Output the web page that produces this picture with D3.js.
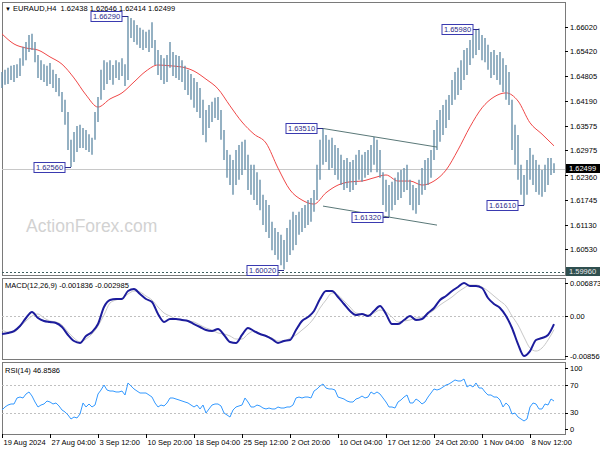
<!DOCTYPE html>
<html><head><meta charset="utf-8">
<script src="https://cdn.jsdelivr.net/npm/d3@7"></script>
<style>body{margin:0;background:#fff}svg{display:block;font-family:"Liberation Sans",Arial,sans-serif}</style>
</head><body><svg id="c" width="600" height="450"></svg>
<script>
const symbol = "EURAUD,H4";
const lastOHLC = ["1.62438", "1.62646", "1.62414", "1.62499"];
const timeLabels = ["19 Aug 2024","27 Aug 04:00","3 Sep 12:00","10 Sep 20:00","18 Sep 04:00","25 Sep 12:00","2 Oct 20:00","10 Oct 04:00","17 Oct 12:00","24 Oct 20:00","1 Nov 04:00","8 Nov 12:00"];
const priceTicks = [1.66020,1.65420,1.64805,1.64190,1.63575,1.62975,1.62360,1.61745,1.61130,1.60530];
const highs = [
1.6491,1.6496,1.6501,1.6506,1.6508,1.6510,1.6525,1.6553,1.6565,1.6582,
1.6585,1.6565,1.6533,1.6520,1.6510,1.6506,1.6513,1.6496,1.6486,1.6476,
1.6441,1.6422,1.6392,1.6323,1.6342,1.6357,1.6360,1.6352,1.6347,1.6337,
1.6328,1.6392,1.6429,1.6496,1.6520,1.6515,1.6520,1.6508,1.6520,1.6515,
1.6525,1.6510,1.6629,1.6624,1.6619,1.6607,1.6600,1.6595,1.6590,1.6595,
1.6614,1.6570,1.6545,1.6533,1.6525,1.6533,1.6565,1.6540,1.6533,1.6530,
1.6520,1.6506,1.6496,1.6486,1.6476,1.6466,1.6451,1.6422,1.6397,1.6409,
1.6417,1.6427,1.6429,1.6397,1.6347,1.6298,1.6286,1.6273,1.6298,1.6310,
1.6318,1.6323,1.6286,1.6261,1.6261,1.6243,1.6224,1.6187,1.6174,1.6162,
1.6120,1.6105,1.6095,1.6088,1.6075,1.6105,1.6125,1.6145,1.6137,1.6145,
1.6154,1.6162,1.6174,1.6179,1.6199,1.6261,1.6323,1.6351,1.6335,1.6323,
1.6328,1.6310,1.6303,1.6286,1.6273,1.6278,1.6268,1.6273,1.6286,1.6298,
1.6286,1.6293,1.6298,1.6310,1.6330,1.6323,1.6298,1.6243,1.6224,1.6211,
1.6219,1.6229,1.6243,1.6248,1.6253,1.6261,1.6224,1.6211,1.6204,1.6224,
1.6253,1.6273,1.6278,1.6298,1.6347,1.6372,1.6397,1.6409,1.6422,1.6434,
1.6471,1.6491,1.6501,1.6520,1.6545,1.6550,1.6570,1.6582,1.6595,1.6598,
1.6582,1.6575,1.6558,1.6540,1.6545,1.6533,1.6540,1.6525,1.6508,1.6491,
1.6422,1.6360,1.6335,1.6261,1.6236,1.6273,1.6303,1.6286,1.6273,1.6261,
1.6248,1.6261,1.6278,1.6278,1.6265];
const lows = [
1.6451,1.6459,1.6461,1.6471,1.6466,1.6476,1.6481,1.6506,1.6520,1.6540,
1.6545,1.6515,1.6476,1.6471,1.6466,1.6456,1.6461,1.6451,1.6441,1.6431,
1.6392,1.6360,1.6298,1.6256,1.6268,1.6293,1.6303,1.6303,1.6298,1.6293,
1.6286,1.6323,1.6367,1.6422,1.6446,1.6461,1.6471,1.6459,1.6476,1.6471,
1.6481,1.6456,1.6471,1.6575,1.6565,1.6558,1.6550,1.6545,1.6550,1.6540,
1.6550,1.6508,1.6483,1.6471,1.6461,1.6466,1.6501,1.6481,1.6476,1.6471,
1.6466,1.6446,1.6434,1.6422,1.6402,1.6392,1.6377,1.6335,1.6317,1.6352,
1.6367,1.6377,1.6372,1.6323,1.6273,1.6229,1.6211,1.6187,1.6211,1.6224,
1.6236,1.6248,1.6199,1.6187,1.6174,1.6162,1.6149,1.6112,1.6095,1.6080,
1.6050,1.6038,1.6026,1.6013,1.6002,1.6021,1.6038,1.6050,1.6063,1.6088,
1.6095,1.6105,1.6112,1.6120,1.6145,1.6174,1.6224,1.6261,1.6268,1.6248,
1.6253,1.6236,1.6224,1.6211,1.6199,1.6204,1.6194,1.6199,1.6211,1.6224,
1.6219,1.6229,1.6236,1.6243,1.6261,1.6243,1.6229,1.6162,1.6145,1.6132,
1.6149,1.6162,1.6174,1.6179,1.6194,1.6199,1.6162,1.6149,1.6140,1.6162,
1.6187,1.6199,1.6211,1.6229,1.6273,1.6298,1.6318,1.6335,1.6352,1.6372,
1.6409,1.6422,1.6434,1.6446,1.6471,1.6483,1.6508,1.6525,1.6533,1.6545,
1.6520,1.6515,1.6496,1.6476,1.6483,1.6471,1.6459,1.6441,1.6422,1.6409,
1.6298,1.6261,1.6224,1.6187,1.6161,1.6187,1.6224,1.6211,1.6194,1.6187,
1.6182,1.6194,1.6211,1.6236,1.6241];
// moving average, one value every 4 bars
const maValues = [1.6585,1.6560,1.6550,1.6545,1.6528,1.6510,1.6476,1.6434,1.6404,1.6424,
1.6439,1.6466,1.6493,1.6508,1.6506,1.6503,1.6493,1.6473,1.6449,1.6407,
1.6367,1.6337,1.6315,1.6253,1.6199,1.6174,1.6164,1.6192,1.6211,1.6219,
1.6221,1.6229,1.6236,1.6221,1.6221,1.6211,1.6221,1.6248,1.6298,1.6355,
1.6402,1.6429,1.6439,1.6419,1.6365,1.6337,1.6308];
// MACD main and signal, one value every 2 bars
const macdMain = [-0.00391,-0.00370,-0.00328,-0.00222,-0.00053,0.00074,-0.00053,-0.00116,-0.00137,-0.00159,
-0.00243,-0.00412,-0.00539,-0.00581,-0.00433,-0.00349,-0.00180,0.00180,0.00328,0.00349,
0.00349,0.00518,0.00560,0.00455,0.00349,0.00285,0.00032,-0.00137,-0.00074,-0.00074,
-0.00095,-0.00116,-0.00180,-0.00243,-0.00307,-0.00328,-0.00285,-0.00412,-0.00560,-0.00581,
-0.00412,-0.00264,-0.00328,-0.00391,-0.00433,-0.00497,-0.00581,-0.00539,-0.00518,-0.00307,
-0.00116,-0.00032,0.00095,0.00349,0.00518,0.00518,0.00391,0.00243,0.00095,0.00011,
0.00032,-0.00011,0.00095,0.00201,0.00032,-0.00180,-0.00180,-0.00095,-0.00011,-0.00095,
-0.00074,0.00053,0.00159,0.00328,0.00412,0.00518,0.00603,0.006873,0.00624,0.00624,
0.00581,0.00370,0.00243,0.00159,-0.00011,-0.00264,-0.00603,-0.00856,-0.00751,-0.00518,
-0.00476,-0.00412,-0.001836];
const macdSignal = [-0.00307,-0.00349,-0.00349,-0.00243,-0.00116,-0.00011,0.00032,-0.00053,-0.00116,-0.00137,
-0.00201,-0.00349,-0.00476,-0.00560,-0.00497,-0.00391,-0.00222,0.00011,0.00264,0.00328,
0.00370,0.00455,0.00518,0.00497,0.00412,0.00328,0.00180,0.00053,-0.00011,-0.00074,
-0.00095,-0.00116,-0.00137,-0.00201,-0.00264,-0.00307,-0.00370,-0.00391,-0.00433,-0.00497,
-0.00497,-0.00391,-0.00328,-0.00391,-0.00433,-0.00476,-0.00539,-0.00539,-0.00476,-0.00412,
-0.00307,-0.00201,-0.00053,0.00159,0.00328,0.00476,0.00433,0.00307,0.00180,0.00053,
0.00032,0.00011,0.00053,0.00116,0.00074,-0.00032,-0.00137,-0.00116,-0.00095,-0.00053,
-0.00032,0.00032,0.00116,0.00222,0.00307,0.00391,0.00497,0.00581,0.00645,0.00645,
0.00603,0.00518,0.00412,0.00307,0.00201,-0.00011,-0.00201,-0.00455,-0.00687,-0.00751,
-0.00687,-0.00518,-0.002985];
const rsiValues = [33.7,38.1,41.0,42.5,42.5,51.3,52.7,51.3,57.1,60.1,
54.2,45.4,38.1,41.0,42.5,46.9,45.4,42.5,44.0,39.6,
33.7,30.8,26.4,20.5,23.4,22.0,27.8,44.0,38.1,42.5,
38.1,41.0,57.1,63.0,70.3,63.0,61.5,61.5,60.1,60.1,
61.5,55.7,73.3,68.9,64.5,61.5,58.6,58.6,58.6,55.7,
52.7,44.0,38.1,41.0,39.6,44.0,51.3,51.3,49.8,48.4,
46.9,45.4,44.0,41.0,38.1,41.0,35.2,41.0,29.3,35.2,
41.0,42.5,42.5,39.6,29.3,26.4,23.4,33.7,38.1,39.6,
41.0,51.3,45.4,38.1,38.1,41.0,39.6,36.6,35.2,36.6,
35.2,35.2,38.1,36.6,36.6,38.1,38.1,41.0,51.3,52.7,
51.3,52.7,52.7,51.3,61.5,64.5,68.9,71.8,65.9,64.5,
64.5,63.0,52.7,51.3,49.8,46.9,45.4,45.4,49.8,51.3,
54.2,51.3,52.7,60.1,57.1,60.1,57.1,51.3,45.4,38.1,
38.1,36.6,45.4,48.4,52.7,55.7,44.0,44.0,49.8,46.9,
42.5,45.4,52.7,58.6,64.5,63.0,64.5,67.4,70.3,71.8,
74.7,77.7,76.2,76.2,79.1,67.4,70.3,67.4,73.3,65.9,
65.9,60.1,55.7,55.7,52.7,52.7,48.4,38.1,44.0,39.6,
27.8,29.3,23.4,20.5,17.6,20.5,38.1,44.0,42.5,35.2,
35.2,42.5,41.0,49.8,46.8586];
const priceNotes = [
  {bar:42, price:1.66290}, {bar:23, price:1.62560}, {bar:107, price:1.63510},
  {bar:94, price:1.60020}, {bar:129, price:1.61320}, {bar:159, price:1.65980},
  {bar:174, price:1.61610}];
const channelUpper = [[107, 1.6351], [145, 1.6305]];
const channelLower = [[107, 1.6159], [145, 1.6112]];
const supportLevel = 1.59960;
const lastPrice = 1.62499;
const macdTicks = [0.006873, 0, -0.00856];
const macdTickText = ["0.006873", "0.00", "-0.00856"];
const rsiTicks = [100, 70, 30, 0];

const svg = d3.select("#c");
const FS = 7.5;
const L = 2, R = 565;
const x = d3.scaleLinear().domain([0, 184]).range([2, 554]);
const y = d3.scaleLinear().domain([1.5996, 1.6602]).range([272, 27]);
const ym = d3.scaleLinear().domain([-0.00856, 0.006873]).range([356, 283]);
const yr = d3.scaleLinear().domain([0, 100]).range([433, 364.75]);

svg.append("rect").attr("width", 600).attr("height", 450).attr("fill", "#fff");
const panels = [[2, 275], [278, 359], [362, 434]];
panels.forEach(p => {
  svg.append("rect").attr("x", L + 0.5).attr("y", p[0] + 0.5).attr("width", R - L).attr("height", p[1] - p[0])
    .attr("fill", "none").attr("stroke", "#7a7a7a").attr("stroke-width", 1);
});

svg.append("text").attr("x", 26).attr("y", 232).attr("font-size", 17.5).attr("fill", "#d2d2d2").text("ActionForex.com");

svg.append("line").attr("x1", L).attr("x2", R).attr("y1", Math.round(y(lastPrice)) + 0.5).attr("y2", Math.round(y(lastPrice)) + 0.5)
  .attr("stroke", "#c8c8c8");
svg.append("line").attr("x1", L).attr("x2", R).attr("y1", Math.round(y(supportLevel)) + 0.5).attr("y2", Math.round(y(supportLevel)) + 0.5)
  .attr("stroke", "#3f5f5f").attr("stroke-dasharray", "2,2");

svg.append("path").datum(maValues).attr("fill", "none").attr("stroke", "#f04848").attr("stroke-width", 1)
  .attr("d", d3.line().x((d, i) => x(i * 4)).y(d => y(d)).curve(d3.curveMonotoneX));

svg.append("g").selectAll("line").data(highs).join("line")
  .attr("x1", (d, i) => x(i)).attr("x2", (d, i) => x(i))
  .attr("y1", d => y(d)).attr("y2", (d, i) => y(lows[i]))
  .attr("stroke", "#6890aa").attr("stroke-width", 1.4);

[channelUpper, channelLower].forEach(c => {
  svg.append("line").attr("x1", x(c[0][0])).attr("y1", y(c[0][1])).attr("x2", x(c[1][0])).attr("y2", y(c[1][1]))
    .attr("stroke", "#5a7878").attr("stroke-width", 1);
});

priceNotes.forEach(n => {
  const bx = x(n.bar), by = Math.round(y(n.price)) + 0.5;
  const w = 31, h = 10, right = bx - 6;
  svg.append("line").attr("x1", right).attr("x2", bx).attr("y1", by).attr("y2", by).attr("stroke", "#2a2a8a");
  svg.append("rect").attr("x", right - w).attr("y", by - h / 2).attr("width", w).attr("height", h)
    .attr("fill", "#fff").attr("stroke", "#3a3ab0");
  svg.append("text").attr("x", right - w / 2).attr("y", by).attr("dy", "0.35em").attr("text-anchor", "middle")
    .attr("font-size", FS).attr("fill", "#2a2a8a").text(n.price.toFixed(5));
});

svg.append("text").attr("x", 5).attr("y", 11).attr("font-size", 6).attr("fill", "#000").text("\u25BC");
svg.append("text").attr("x", 13).attr("y", 11).attr("font-size", FS).attr("fill", "#000")
  .attr("xml:space", "preserve").text(symbol + "  " + lastOHLC.join(" "));

priceTicks.forEach(t => {
  const ty = Math.round(y(t)) + 0.5;
  svg.append("line").attr("x1", R).attr("x2", R + 3).attr("y1", ty).attr("y2", ty).attr("stroke", "#000");
  svg.append("text").attr("x", R + 5).attr("y", ty + (t === 1.62360 ? 2 : 0)).attr("dy", "0.35em").attr("font-size", FS).text(t.toFixed(5));
});
[[lastPrice, "#000", "#fff"], [supportLevel, "#2f4f4f", "#e8e8e8"]].forEach(([v, bg, fg]) => {
  const ty = Math.round(y(v));
  svg.append("rect").attr("x", R + 1).attr("y", ty - 5).attr("width", 34).attr("height", 9).attr("fill", bg);
  svg.append("text").attr("x", R + 4).attr("y", ty - 0.5).attr("dy", "0.35em").attr("font-size", FS).attr("fill", fg).text(v.toFixed(5));
});

svg.append("line").attr("x1", L).attr("x2", R).attr("y1", Math.round(ym(0)) + 0.5).attr("y2", Math.round(ym(0)) + 0.5)
  .attr("stroke", "#c0c0c0").attr("stroke-dasharray", "2,2");
svg.append("path").datum(macdSignal).attr("fill", "none").attr("stroke", "#c8c8c8").attr("stroke-width", 1)
  .attr("d", d3.line().x((d, i) => x(i * 2)).y(d => ym(d)).curve(d3.curveMonotoneX));
svg.append("path").datum(macdMain).attr("fill", "none").attr("stroke", "#1c1c9c").attr("stroke-width", 2)
  .attr("d", d3.line().x((d, i) => x(i * 2)).y(d => ym(d)).curve(d3.curveMonotoneX));
svg.append("text").attr("x", 5).attr("y", 285).attr("dy", "0.35em").attr("font-size", FS)
  .text("MACD(12,26,9) " + macdMain[macdMain.length - 1].toFixed(6) + " " + macdSignal[macdSignal.length - 1].toFixed(6));
macdTicks.forEach((t, i) => {
  const ty = Math.round(ym(t)) + 0.5;
  svg.append("line").attr("x1", R).attr("x2", R + 3).attr("y1", ty).attr("y2", ty).attr("stroke", "#000");
  svg.append("text").attr("x", R + 5).attr("y", ty).attr("dy", "0.35em").attr("font-size", FS).text(macdTickText[i]);
});

[70, 30].forEach(v => {
  svg.append("line").attr("x1", L).attr("x2", R).attr("y1", Math.round(yr(v)) + 0.5).attr("y2", Math.round(yr(v)) + 0.5)
    .attr("stroke", "#c0c0c0").attr("stroke-dasharray", "2,2");
});
svg.append("path").datum(rsiValues).attr("fill", "none").attr("stroke", "#3399ff").attr("stroke-width", 1)
  .attr("d", d3.line().x((d, i) => x(i)).y(d => yr(d)));
svg.append("text").attr("x", 5).attr("y", 370).attr("dy", "0.35em").attr("font-size", FS)
  .text("RSI(14) " + rsiValues[rsiValues.length - 1].toFixed(4));
rsiTicks.forEach(t => {
  let ty = yr(t);
  ty = Math.max(368, Math.min(429, ty));
  svg.append("line").attr("x1", R).attr("x2", R + 3).attr("y1", Math.round(ty) + 0.5).attr("y2", Math.round(ty) + 0.5).attr("stroke", "#000");
  svg.append("text").attr("x", R + 5).attr("y", ty).attr("dy", "0.35em").attr("font-size", FS).text(t);
});

timeLabels.forEach((t, i) => {
  const tx = Math.round(x(i * 16)) + 0.5;
  svg.append("line").attr("x1", tx).attr("x2", tx).attr("y1", 434).attr("y2", 438).attr("stroke", "#000");
  svg.append("text").attr("x", tx + 1).attr("y", 445).attr("font-size", FS).text(t);
});
</script></body></html>
